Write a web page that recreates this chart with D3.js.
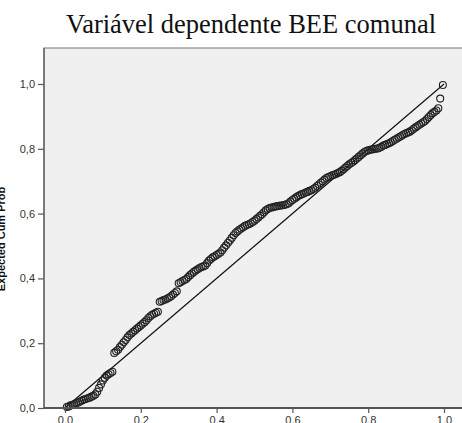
<!DOCTYPE html>
<html>
<head>
<meta charset="utf-8">
<script src="https://cdn.jsdelivr.net/npm/d3@7"></script>
<style>
  body { margin: 0; background: #fff; }
  svg { display: block; }
</style>
</head>
<body>
<svg id="chart"></svg>
<script>
// Normal P-P plot
var title = "Variável dependente BEE comunal"
var yLabel = "Expected Cum Prob"
var tickValues = [0.0, 0.2, 0.4, 0.6, 0.8, 1.0]

var observedCum = [
    0.005, 0.010, 0.015, 0.020, 0.025, 0.030, 0.035, 0.040, 0.045, 0.050,
    0.055, 0.060, 0.065, 0.070, 0.075, 0.080, 0.085, 0.090, 0.095, 0.100,
    0.105, 0.110, 0.115, 0.120, 0.125, 0.130, 0.135, 0.140, 0.145, 0.150,
    0.155, 0.160, 0.165, 0.170, 0.175, 0.180, 0.185, 0.190, 0.195, 0.200,
    0.205, 0.210, 0.215, 0.220, 0.225, 0.230, 0.235, 0.240, 0.245, 0.250,
    0.255, 0.260, 0.265, 0.270, 0.275, 0.280, 0.285, 0.290, 0.295, 0.300,
    0.305, 0.310, 0.315, 0.320, 0.325, 0.330, 0.335, 0.340, 0.345, 0.350,
    0.355, 0.360, 0.365, 0.370, 0.375, 0.380, 0.385, 0.390, 0.395, 0.400,
    0.405, 0.410, 0.415, 0.420, 0.425, 0.430, 0.435, 0.440, 0.445, 0.450,
    0.455, 0.460, 0.465, 0.470, 0.475, 0.480, 0.485, 0.490, 0.495, 0.500,
    0.505, 0.510, 0.515, 0.520, 0.525, 0.530, 0.535, 0.540, 0.545, 0.550,
    0.555, 0.560, 0.565, 0.570, 0.575, 0.580, 0.585, 0.590, 0.595, 0.600,
    0.605, 0.610, 0.615, 0.620, 0.625, 0.630, 0.635, 0.640, 0.645, 0.650,
    0.655, 0.660, 0.665, 0.670, 0.675, 0.680, 0.685, 0.690, 0.695, 0.700,
    0.705, 0.710, 0.715, 0.720, 0.725, 0.730, 0.735, 0.740, 0.745, 0.750,
    0.755, 0.760, 0.765, 0.770, 0.775, 0.780, 0.785, 0.790, 0.795, 0.800,
    0.805, 0.810, 0.815, 0.820, 0.825, 0.830, 0.835, 0.840, 0.845, 0.850,
    0.855, 0.860, 0.865, 0.870, 0.875, 0.880, 0.885, 0.890, 0.895, 0.900,
    0.905, 0.910, 0.915, 0.920, 0.925, 0.930, 0.935, 0.940, 0.945, 0.950,
    0.955, 0.960, 0.965, 0.970, 0.975, 0.980, 0.985, 0.990, 0.997
]
var expectedCum = [
    0.003, 0.005, 0.008, 0.010, 0.012, 0.015, 0.017, 0.020, 0.023, 0.026,
    0.028, 0.030, 0.032, 0.035, 0.038, 0.042, 0.050, 0.062, 0.073, 0.085,
    0.093, 0.100, 0.104, 0.108, 0.112, 0.170, 0.175, 0.180, 0.188, 0.195,
    0.203, 0.210, 0.218, 0.225, 0.230, 0.235, 0.240, 0.245, 0.250, 0.255,
    0.260, 0.265, 0.271, 0.278, 0.283, 0.288, 0.291, 0.294, 0.297, 0.328,
    0.330, 0.333, 0.335, 0.338, 0.341, 0.345, 0.350, 0.355, 0.360, 0.385,
    0.388, 0.392, 0.395, 0.398, 0.404, 0.410, 0.415, 0.420, 0.424, 0.428,
    0.432, 0.435, 0.437, 0.440, 0.447, 0.455, 0.460, 0.465, 0.468, 0.472,
    0.476, 0.480, 0.487, 0.495, 0.502, 0.510, 0.517, 0.525, 0.533, 0.540,
    0.545, 0.550, 0.554, 0.558, 0.562, 0.565, 0.567, 0.570, 0.574, 0.578,
    0.583, 0.588, 0.593, 0.598, 0.604, 0.610, 0.614, 0.617, 0.619, 0.620,
    0.622, 0.623, 0.624, 0.625, 0.626, 0.627, 0.629, 0.632, 0.637, 0.642,
    0.646, 0.650, 0.654, 0.657, 0.660, 0.662, 0.665, 0.667, 0.670, 0.672,
    0.676, 0.680, 0.685, 0.690, 0.695, 0.700, 0.705, 0.710, 0.713, 0.715,
    0.718, 0.720, 0.722, 0.725, 0.728, 0.732, 0.737, 0.742, 0.747, 0.752,
    0.756, 0.760, 0.765, 0.770, 0.775, 0.780, 0.785, 0.790, 0.793, 0.795,
    0.797, 0.798, 0.799, 0.800, 0.801, 0.803, 0.806, 0.810, 0.812, 0.815,
    0.817, 0.820, 0.824, 0.828, 0.831, 0.835, 0.838, 0.842, 0.845, 0.848,
    0.850, 0.853, 0.857, 0.862, 0.866, 0.870, 0.874, 0.878, 0.882, 0.886,
    0.892, 0.898, 0.904, 0.910, 0.914, 0.918, 0.925, 0.955, 0.997
]

var dimensions = {
    width: 462,
    height: 423,
    plot: { left: 44, top: 48, right: 472, bottom: 408 }
}

var svg = d3.select("#chart")
    .attr("width", dimensions.width)
    .attr("height", dimensions.height)

var points = observedCum.map((d, i) => ({ x: d, y: expectedCum[i] }))

var xScale = d3.scaleLinear()
    .domain([0, 1])
    .range([65, 444])

var yScale = d3.scaleLinear()
    .domain([0, 1])
    .range([dimensions.plot.bottom, 84])

// plot area
svg.append("rect")
    .attr("x", dimensions.plot.left)
    .attr("y", dimensions.plot.top)
    .attr("width", dimensions.plot.right - dimensions.plot.left)
    .attr("height", dimensions.plot.bottom - dimensions.plot.top)
    .attr("fill", "#f0f0f0")
    .attr("stroke", "#8a8a8a")
    .attr("stroke-width", 1.2)

svg.append("text")
    .attr("x", 251)
    .attr("y", 33)
    .attr("text-anchor", "middle")
    .style("font-family", "'Liberation Serif', 'Times New Roman', serif")
    .style("font-size", "26.5px")
    .attr("fill", "#111")
    .text(title)

// reference diagonal
svg.append("line")
    .attr("x1", xScale(0))
    .attr("y1", yScale(0))
    .attr("x2", xScale(1))
    .attr("y2", yScale(1))
    .attr("stroke", "#111")
    .attr("stroke-width", 1.2)

svg.append("g")
    .selectAll("circle")
    .data(points)
    .enter()
    .append("circle")
    .attr("cx", d => xScale(d.x))
    .attr("cy", d => yScale(d.y))
    .attr("r", 3.5)
    .attr("fill", "none")
    .attr("stroke", "#222")
    .attr("stroke-width", 1.1)

var fmt = d => d3.format(".1f")(d).replace(".", ",")

var yAxis = svg.append("g")
    .attr("transform", `translate(${dimensions.plot.left},0)`)
    .call(d3.axisLeft(yScale).tickValues(tickValues).tickFormat(fmt).tickSize(6))
yAxis.select(".domain").remove()

var xAxis = svg.append("g")
    .attr("transform", `translate(0,${dimensions.plot.bottom})`)
    .call(d3.axisBottom(xScale).tickValues(tickValues).tickFormat(fmt).tickSize(5))
xAxis.select(".domain").remove()

svg.selectAll(".tick line").attr("stroke", "#555").attr("stroke-width", 1.2)
svg.selectAll(".tick text")
    .attr("fill", "#333")
    .style("font-family", "'Liberation Sans', Arial, sans-serif")
    .style("font-size", "11px")

// axis lines
svg.append("line")
    .attr("x1", dimensions.plot.left).attr("x2", dimensions.plot.left)
    .attr("y1", dimensions.plot.top).attr("y2", dimensions.plot.bottom)
    .attr("stroke", "#666").attr("stroke-width", 1.5)
svg.append("line")
    .attr("x1", dimensions.plot.left).attr("x2", dimensions.width)
    .attr("y1", dimensions.plot.bottom).attr("y2", dimensions.plot.bottom)
    .attr("stroke", "#555").attr("stroke-width", 1.8)

// y label, partly cut off at the left edge as in the picture
svg.append("text")
    .attr("transform", "translate(5,239) rotate(-90)")
    .attr("text-anchor", "middle")
    .style("font-family", "'Liberation Sans', Arial, sans-serif")
    .style("font-size", "11px")
    .style("font-weight", "bold")
    .attr("fill", "#111")
    .text(yLabel)
</script>
</body>
</html>
